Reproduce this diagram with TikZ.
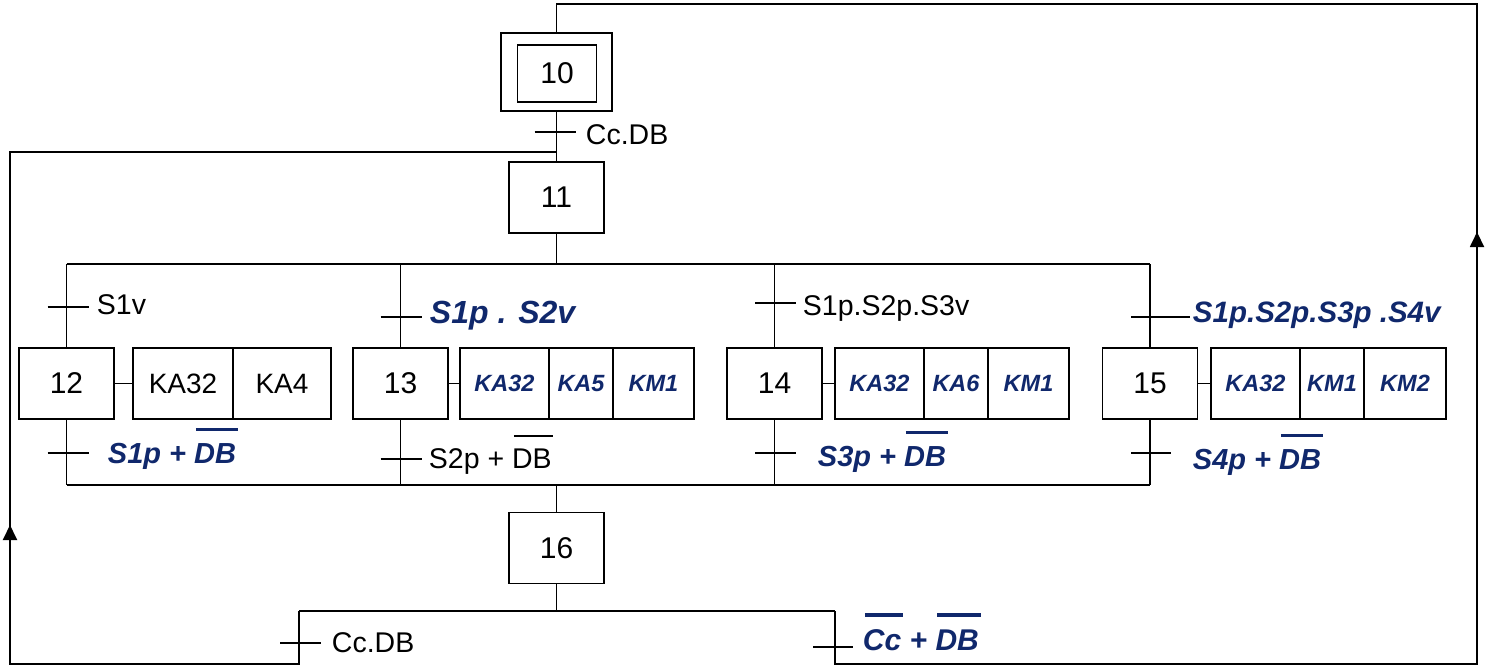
\documentclass[tikz,border=0pt]{standalone}
\usepackage{fontspec}
\setmainfont{Liberation Sans}
\usetikzlibrary{arrows.meta}
\definecolor{navy}{RGB}{16,40,108}
\newcommand\ovl[2][0.07em]{\leavevmode\setbox0=\hbox{#2}\rlap{\kern0.06em\rule[1.1em]{\wd0}{#1}}\box0\relax}
\tikzset{
  stepbox/.style={draw, line width=1.9pt, minimum width=95pt, minimum height=71pt, inner sep=0pt, font=\fontsize{30}{30}\selectfont},
  actp/.style={draw, line width=1.9pt, minimum height=71pt, inner sep=0pt, font=\fontsize{28}{28}\selectfont},
  actb/.style={actp, text=navy, font=\fontsize{23.5}{23.5}\selectfont\bfseries\itshape},
  lbl/.style={anchor=base west, inner sep=0pt, font=\fontsize{28.5}{28.5}\selectfont},
  blbl/.style={lbl, text=navy, font=\fontsize{29}{29}\selectfont\bfseries\itshape},
  link/.style={line width=1.9pt},
  arr/.style={line width=1.9pt, -{Triangle[width=14pt,length=15pt]}}
}
\begin{document}
\begin{tikzpicture}[x=1pt,y=-1pt,line width=1.9pt]
\useasboundingbox (0,0) rectangle (1487,666);
% steps
\node[stepbox, minimum width=111pt, minimum height=78pt] (s10o) at (556.5,72) {};
\node[stepbox, minimum width=79pt, minimum height=57pt] (s10) at (557,73.5) {10};
\node[stepbox] (s11) at (556.5,197.5) {11};
\node[stepbox] (s12) at (66.5,383.5) {12};
\node[stepbox] (s13) at (400.5,383.5) {13};
\node[stepbox] (s14) at (774.5,383.5) {14};
\node[stepbox] (s15) at (1150,383.5) {15};
\node[stepbox] (s16) at (556.5,548) {16};
% actions
\node[actp, minimum width=100pt] (a12a) at (183,383.5) {KA32};
\node[actp, minimum width=98pt] (a12b) at (282,383.5) {KA4};
\node[actb, minimum width=89pt] (a13a) at (504.5,383.5) {KA32};
\node[actb, minimum width=64pt] (a13b) at (581,383.5) {KA5};
\node[actb, minimum width=81pt] (a13c) at (653.5,383.5) {KM1};
\node[actb, minimum width=89pt] (a14a) at (879.5,383.5) {KA32};
\node[actb, minimum width=64pt] (a14b) at (956,383.5) {KA6};
\node[actb, minimum width=81pt] (a14c) at (1028.5,383.5) {KM1};
\node[actb, minimum width=89pt] (a15a) at (1255.5,383.5) {KA32};
\node[actb, minimum width=64pt] (a15b) at (1332,383.5) {KM1};
\node[actb, minimum width=82pt] (a15c) at (1405,383.5) {KM2};
\draw[link] (s12.east) -- (a12a.west);
\draw[link] (s13.east) -- (a13a.west);
\draw[link] (s14.east) -- (a14a.west);
\draw[link] (s15.east) -- (a15a.west);
% junction coordinates
\coordinate (top) at (556.5,4);
\coordinate (tr) at (1477,4);
\coordinate (br) at (1477,664);
\coordinate (bl) at (10,664);
\coordinate (lt) at (10,152);
\coordinate (dL) at (66.5,264);
\coordinate (dR) at (1150,264);
\coordinate (cL) at (66.5,485);
\coordinate (cR) at (1150,485);
\coordinate (jL) at (299,611);
\coordinate (jR) at (835,611);
\coordinate (arR) at (1477,232);
\coordinate (arRb) at (1477,252);
\coordinate (arL) at (10,525);
\coordinate (arLb) at (10,545);
% main links
\draw[link] (s10o.south) -- (s11.north);
\draw[link] (s11.north |- lt) -- (lt) -- (bl) -| (jL);
\draw[link] (s11.south) -- (s11.south |- dL);
\draw[link] (dL) -- (dR);
\draw[link] (s12.north) -- (s12.north |- dL);
\draw[link] (s13.north) -- (s13.north |- dL);
\draw[link] (s14.north) -- (s14.north |- dL);
\draw[link] (s15.north) -- (s15.north |- dL);
\draw[link] (s12.south) -- (s12.south |- cL);
\draw[link] (s13.south) -- (s13.south |- cL);
\draw[link] (s14.south) -- (s14.south |- cL);
\draw[link] (s15.south) -- (s15.south |- cL);
\draw[link] (cL) -- (cR);
\draw[link] (s16.north) -- (s16.north |- cL);
\draw[link] (s16.south) -- (s16.south |- jL);
\draw[link] (jL) -- (jR);
\draw[link] (jR) |- (br) -- (tr) -- (top) -- (s10o.north);
\draw[arr] (arRb) -- (arR);
\draw[arr] (arLb) -- (arL);
% transitions
\coordinate (t1) at (556.5,132);
\coordinate (t2) at (66.5,307);
\coordinate (t3) at (400.5,317);
\coordinate (t4) at (775,303);
\coordinate (t5) at (1150,317);
\coordinate (t6) at (66.5,453);
\coordinate (t7) at (400.5,459);
\coordinate (t8) at (775,453);
\coordinate (t9) at (1150,453);
\coordinate (t10) at (299,643);
\coordinate (t11) at (835,647);
\draw[link] ([xshift=-22pt]t1) -- ([xshift=19pt]t1);
\draw[link] ([xshift=-19pt]t2) -- ([xshift=22pt]t2);
\draw[link] ([xshift=-20pt]t3) -- ([xshift=21pt]t3);
\draw[link] ([xshift=-20pt]t4) -- ([xshift=21pt]t4);
\draw[link] ([xshift=-19pt]t5) -- ([xshift=40pt]t5);
\draw[link] ([xshift=-19pt]t6) -- ([xshift=22pt]t6);
\draw[link] ([xshift=-20pt]t7) -- ([xshift=21pt]t7);
\draw[link] ([xshift=-20pt]t8) -- ([xshift=21pt]t8);
\draw[link] ([xshift=-19pt]t9) -- ([xshift=21pt]t9);
\draw[link] ([xshift=-19pt]t10) -- ([xshift=22pt]t10);
\draw[link] ([xshift=-22pt]t11) -- ([xshift=18pt]t11);
% labels
\node[lbl] (l1) at (585,144) {Cc.DB};
\node[lbl] (l2) at (96,314) {S1v};
\node[blbl, font=\fontsize{32}{32}\selectfont\bfseries\itshape] (l3) at (429,323) {S1p . S2v};
\node[lbl] (l4) at (802,315) {S1p.S2p.S3v};
\node[blbl, font=\fontsize{29.5}{29.5}\selectfont\bfseries\itshape] (l5) at (1192,322) {S1p.S2p.S3p .S4v};
\node[blbl] (l6) at (107,463) {S1p + \ovl[0.12em]{DB}};
\node[lbl] (l7) at (428,468) {S2p + \ovl{DB}};
\node[blbl] (l8) at (817,466) {S3p + \ovl[0.12em]{DB}};
\node[blbl] (l9) at (1192,469) {S4p + \ovl[0.12em]{DB}};
\node[lbl] (l10) at (331,652) {Cc.DB};
\node[blbl, font=\fontsize{30}{30}\selectfont\bfseries\itshape] (l11) at (862,650) {\ovl[0.12em]{Cc} + \ovl[0.12em]{DB}};
\end{tikzpicture}
\end{document}
